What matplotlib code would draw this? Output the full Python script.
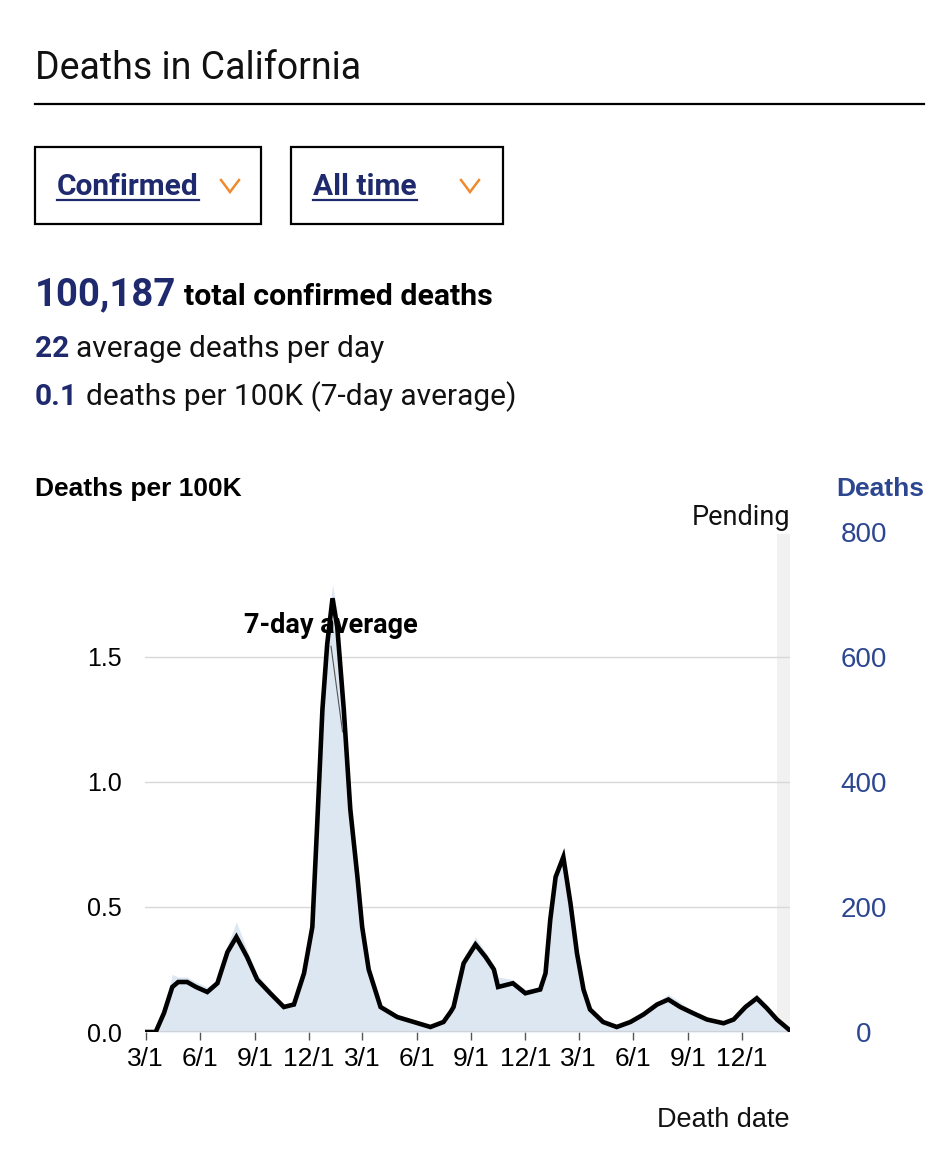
import matplotlib
matplotlib.use("Agg")
import matplotlib.pyplot as plt
import matplotlib.dates as mdates
import numpy as np
import pandas as pd

# ---------------- data ----------------
avg_dates = ["2020-03-01", "2020-03-18", "2020-04-01", "2020-04-15", "2020-04-25",
             "2020-05-10", "2020-05-25", "2020-06-13", "2020-06-30", "2020-07-17",
             "2020-08-01", "2020-08-19", "2020-09-05", "2020-09-27", "2020-10-20",
             "2020-11-06", "2020-11-23", "2020-12-07", "2020-12-15", "2020-12-24",
             "2021-01-01", "2021-01-10", "2021-01-18", "2021-01-29", "2021-02-09",
             "2021-02-21", "2021-03-01", "2021-03-12", "2021-04-01", "2021-04-29",
             "2021-05-27", "2021-06-24", "2021-07-16", "2021-07-28", "2021-08-02",
             "2021-08-19", "2021-09-08", "2021-09-25", "2021-10-09", "2021-10-16",
             "2021-11-10", "2021-12-01", "2021-12-26", "2022-01-04", "2022-01-12",
             "2022-01-21", "2022-02-03", "2022-02-15", "2022-02-26", "2022-03-09",
             "2022-03-20", "2022-04-11", "2022-05-04", "2022-05-27", "2022-06-18",
             "2022-07-11", "2022-07-30", "2022-08-19", "2022-09-10", "2022-10-03",
             "2022-10-31", "2022-11-17", "2022-12-07", "2022-12-26", "2023-01-12",
             "2023-01-29", "2023-02-18"]
avg_per_100k = [0.0, 0.0, 0.076, 0.18, 0.20,
                0.20, 0.18, 0.16, 0.195, 0.32,
                0.38, 0.30, 0.21, 0.155, 0.10,
                0.11, 0.235, 0.42, 0.82, 1.29,
                1.55, 1.735, 1.62, 1.29, 0.89,
                0.62, 0.42, 0.25, 0.10, 0.06,
                0.04, 0.02, 0.04, 0.08, 0.10,
                0.275, 0.35, 0.30, 0.25, 0.18,
                0.195, 0.155, 0.17, 0.235, 0.45,
                0.62, 0.70, 0.515, 0.315, 0.17,
                0.09, 0.04, 0.02, 0.04, 0.07,
                0.11, 0.13, 0.10, 0.075, 0.05,
                0.035, 0.05, 0.10, 0.135, 0.095,
                0.05, 0.01]
# daily counts envelope (light-blue bars), slightly above the average at spikes
daily_per_100k = [0.0, 0.0, 0.09, 0.23, 0.22,
                  0.22, 0.20, 0.18, 0.21, 0.35,
                  0.44, 0.33, 0.23, 0.17, 0.11,
                  0.12, 0.26, 0.45, 0.86, 1.33,
                  1.60, 1.79, 1.68, 1.33, 0.94,
                  0.66, 0.45, 0.27, 0.11, 0.07,
                  0.05, 0.03, 0.05, 0.09, 0.11,
                  0.30, 0.38, 0.32, 0.27, 0.22,
                  0.21, 0.17, 0.18, 0.25, 0.48,
                  0.65, 0.72, 0.54, 0.34, 0.18,
                  0.10, 0.05, 0.03, 0.05, 0.08,
                  0.12, 0.15, 0.12, 0.08, 0.06,
                  0.04, 0.06, 0.11, 0.15, 0.11,
                  0.06, 0.02]

x_start = "2020-03-01"
x_end = "2023-02-20"
pending_start = "2023-01-29"
tick_dates = ["2020-03-01", "2020-06-01", "2020-09-01", "2020-12-01",
              "2021-03-01", "2021-06-01", "2021-09-01", "2021-12-01",
              "2022-03-01", "2022-06-01", "2022-09-01", "2022-12-01"]
tick_labels = ["3/1", "6/1", "9/1", "12/1", "3/1", "6/1", "9/1", "12/1",
               "3/1", "6/1", "9/1", "12/1"]
left_ticks = [0.0, 0.5, 1.0, 1.5]
left_labels = ["0.0", "0.5", "1.0", "1.5"]
right_ticks = [0, 200, 400, 600, 800]

total_deaths = "100,187"
avg_per_day = "22"
per_100k_avg = "0.1"

# ---------------- styling ----------------
NAVY = "#1f2a6e"
RBLUE = "#2c4690"
ORANGE = "#f08a2c"
FILL = "#dde7f2"
W, H = 952, 1170
fig = plt.figure(figsize=(W / 100, H / 100), dpi=100)
fig.patch.set_facecolor("white")

def px_axes(l, t, r, b):
    return [l / W, 1 - b / H, (r - l) / W, (b - t) / H]

# ---------------- main chart ----------------
ax = fig.add_axes(px_axes(145, 532, 790, 1032))
d_avg = pd.to_datetime(avg_dates)
d_day = pd.to_datetime(avg_dates)

ax.axvspan(pd.Timestamp(pending_start), pd.Timestamp(x_end), ymin=0, ymax=0.996,
           color="#f1f1f1", lw=0, zorder=0)
for v in left_ticks[1:]:
    ax.axhline(v, color="#d8d8d8", lw=1, zorder=1)
ax.fill_between(d_day, 0, daily_per_100k, color=FILL, lw=0, zorder=2)
ax.axhline(0, color="#cfd3d8", lw=1.6, zorder=3)
ax.plot(d_avg, avg_per_100k, color="black", lw=3.3, solid_joinstyle="miter", zorder=4)

ax.set_xlim(pd.Timestamp(x_start) - pd.Timedelta(days=1), pd.Timestamp(x_end))
ax.set_ylim(0, 2.0)
for s in ax.spines.values():
    s.set_visible(False)
ax.set_xticks(pd.to_datetime(tick_dates))
ax.set_xticklabels(tick_labels, family="Liberation Sans", fontsize=19)
ax.tick_params(axis="x", length=6, width=1, color="#555555", pad=5, direction="out")
ax.set_yticks(left_ticks)
ax.set_yticklabels(left_labels, family="Liberation Sans", fontsize=18)
ax.tick_params(axis="y", length=0, pad=17)
ax.patch.set_visible(False)

ax2 = ax.twinx()
ax2.set_ylim(0, 800)
ax2.set_yticks(right_ticks)
ax2.set_yticklabels([str(v) for v in right_ticks], family="Liberation Sans",
                    fontsize=20, color=RBLUE, ha="center")
ax2.tick_params(axis="y", length=0, pad=53)
for s in ax2.spines.values():
    s.set_visible(False)

# ---------------- overlay in pixel coordinates ----------------
ov = fig.add_axes([0, 0, 1, 1])
ov.set_xlim(0, W)
ov.set_ylim(H, 0)
ov.axis("off")
ov.patch.set_visible(False)

ov.text(35, 79, "Deaths in California", family="Roboto", fontsize=27,
        color="#111111", va="baseline", ha="left")
ov.plot([35, 924], [104, 104], color="black", lw=1.6)

# dropdown boxes
for (l, r) in [(35, 261), (291, 503)]:
    ov.add_patch(plt.Rectangle((l, 147), r - l, 77, fill=False, ec="black", lw=1.6))

t_conf = ov.text(57, 195, "Confirmed", family="Roboto", fontweight="bold",
                 fontsize=21.5, color=NAVY, va="baseline")
t_all = ov.text(313, 195, "All time", family="Roboto", fontweight="bold",
                fontsize=21.5, color=NAVY, va="baseline")
for cx in [230, 470]:
    ov.plot([cx - 9, cx, cx + 9], [180, 192, 180], color=ORANGE, lw=1.8,
            solid_joinstyle="miter")

# headline numbers
t1 = ov.text(35, 305, total_deaths, family="Roboto", fontweight="bold",
             fontsize=27.5, color=NAVY, va="baseline")
t2 = ov.text(35, 357, avg_per_day, family="Roboto", fontweight="bold",
             fontsize=21.5, color=NAVY, va="baseline")
t3 = ov.text(35, 405, per_100k_avg, family="Roboto", fontweight="bold",
             fontsize=21.5, color=NAVY, va="baseline")

fig.canvas.draw()
rend = fig.canvas.get_renderer()
inv = ov.transData.inverted()

def right_edge(t):
    bb = t.get_window_extent(rend)
    return inv.transform((bb.x1, bb.y0))[0]

def left_edge(t):
    bb = t.get_window_extent(rend)
    return inv.transform((bb.x0, bb.y0))[0]

ov.text(right_edge(t1) + 8, 305, "total confirmed deaths", family="Roboto",
        fontweight="bold", fontsize=21.8, color="black", va="baseline")
ov.text(right_edge(t2) + 7, 357, "average deaths per day", family="Roboto",
        fontsize=21.5, color="#111111", va="baseline")
ov.text(right_edge(t3) + 8, 405, "deaths per 100K (7-day average)", family="Roboto",
        fontsize=21.5, color="#111111", va="baseline")
for t in (t_conf, t_all):
    ov.plot([left_edge(t), right_edge(t)], [199.5, 199.5], color=NAVY, lw=1.6)

# chart labels
ov.text(35, 496, "Deaths per 100K", family="Liberation Sans", fontweight="bold",
        fontsize=19, color="black", va="baseline")
ov.text(924, 496, "Deaths", family="Liberation Sans", fontweight="bold",
        fontsize=19, color=RBLUE, va="baseline", ha="right")
ov.text(790, 525, "Pending", family="Roboto", fontsize=19.5, color="#111111",
        va="baseline", ha="right")
ov.text(790, 1127, "Death date", family="Liberation Sans", fontsize=19.5,
        color="#111111", va="baseline", ha="right")

ax.annotate("", xy=(pd.Timestamp("2021-01-27"), 1.2), xycoords="data",
            xytext=(331, 646), textcoords=ov.transData,
            arrowprops=dict(arrowstyle="-", color="#555555", lw=0.8,
                            shrinkA=0, shrinkB=0), zorder=5)
ov.text(331, 633, "7-day average", family="Roboto", fontweight="bold",
        fontsize=19.5, color="black", va="baseline", ha="center")

fig.savefig("out.png", dpi=100, facecolor="white")
